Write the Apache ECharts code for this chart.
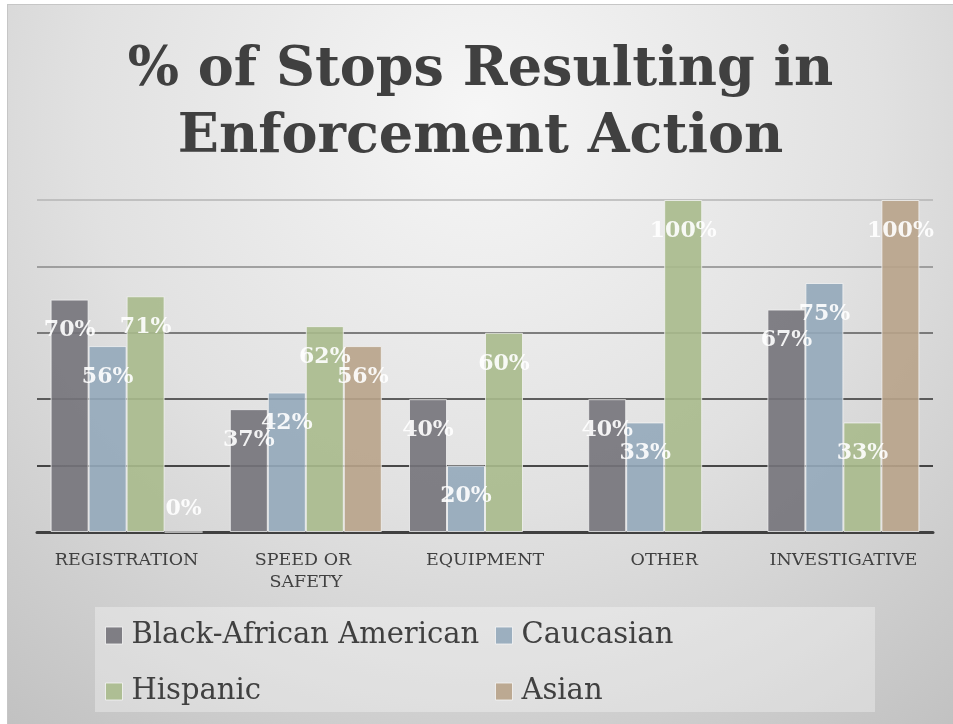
<!DOCTYPE html>
<html>
<head>
<meta charset="utf-8">
<script src="https://cdn.jsdelivr.net/npm/echarts@6/dist/echarts.min.js"></script>
<style>
  html, body { margin: 0; padding: 0; background: #ffffff; width: 953px; height: 724px; overflow: hidden; }
  #frame { position: absolute; left: 7px; top: 4px; width: 946px; height: 720px; background: #c6c6c6; }
  #chart { position: absolute; left: 8px; top: 5px; width: 945px; height: 719px; }
</style>
</head>
<body>
<div id="frame"></div>
<div id="chart"></div>
<script>
const titleLines = ['% of Stops Resulting in', 'Enforcement Action'];
const categories = ['REGISTRATION', 'SPEED OR SAFETY', 'EQUIPMENT', 'OTHER', 'INVESTIGATIVE'];
const seriesNames = ['Black-African American', 'Caucasian', 'Hispanic', 'Asian'];
const blackAfricanAmerican = [70, 37, 40, 40, 67];
const caucasian = [56, 42, 20, 33, 75];
const hispanic = [71, 62, 60, 100, 33];
const asian = [0, 56, null, null, 100];
const yTicks = [0, 20, 40, 60, 80, 100];

const seriesValues = [blackAfricanAmerican, caucasian, hispanic, asian];
const seriesColors = ['#74737a', '#93a9ba', '#a8ba8c', '#b8a38a'];
const FONT = 'DejaVu Serif';

const chart = echarts.init(document.getElementById('chart'), null, { renderer: 'canvas' });

function buildData(values) {
  return values.map(v => {
    if (v === 0) {
      return { value: v, label: { position: 'top', distance: 11, offset: [0, 0] } };
    }
    return v;
  });
}

const series = seriesNames.map((name, i) => ({
  name: name,
  type: 'bar',
  data: buildData(seriesValues[i]),
  barWidth: 38,
  barGap: '0%',
  itemStyle: {
    color: seriesColors[i],
    opacity: 0.9,
    borderColor: 'rgba(245,245,245,0.85)',
    borderWidth: 1
  },
  label: {
    show: true,
    position: 'insideTop',
    distance: 5,
    offset: [0, 15],
    formatter: '{c}%',
    color: '#ffffff',
    fontFamily: FONT,
    fontWeight: 'bold',
    fontSize: 22,
    lineHeight: 22
  },
  emphasis: { disabled: true }
}));

const legendCommon = {
  orient: 'vertical',
  top: 616,
  padding: 0,
  itemGap: 27,
  itemWidth: 17,
  itemHeight: 17,
  icon: 'rect',
  itemStyle: { borderColor: 'rgba(245,245,245,0.9)', borderWidth: 1 },
  textStyle: { fontFamily: FONT, fontSize: 29, lineHeight: 28, color: '#404040', padding: [0, 0, 0, 4] }
};

const option = {
  animation: false,
  backgroundColor: {
    type: 'radial', x: 0.5, y: 0.15, r: 1.1,
    colorStops: [
      { offset: 0, color: '#f6f6f6' },
      { offset: 0.5, color: '#e1e1e1' },
      { offset: 1, color: '#c0c0c0' }
    ]
  },
  title: {
    text: titleLines.join('\n'),
    left: 'center',
    top: 27,
    textStyle: {
      fontFamily: FONT,
      fontWeight: 'bold',
      fontSize: 54,
      lineHeight: 67,
      color: '#404040'
    }
  },
  graphic: [{
    type: 'rect',
    z: -1,
    shape: { x: 87, y: 602, width: 780, height: 105 },
    style: { fill: 'rgba(255,255,255,0.32)' }
  }],
  legend: [
    Object.assign({}, legendCommon, { data: [seriesNames[0], seriesNames[2]], left: 97 }),
    Object.assign({}, legendCommon, { data: [seriesNames[1], seriesNames[3]], left: 487 })
  ],
  grid: { left: 29, right: 20, top: 195, bottom: 192, containLabel: false },
  xAxis: {
    type: 'category',
    data: categories,
    axisLine: { show: true, lineStyle: { color: '#404040', width: 3 } },
    axisTick: { show: false },
    axisLabel: {
      fontFamily: FONT,
      fontSize: 17.5,
      lineHeight: 22,
      color: '#404040',
      margin: 17,
      width: 168,
      overflow: 'break',
      interval: 0
    }
  },
  yAxis: {
    type: 'value',
    min: yTicks[0],
    max: yTicks[yTicks.length - 1],
    interval: yTicks[1] - yTicks[0],
    axisLine: { show: false },
    axisTick: { show: false },
    axisLabel: { show: false },
    splitLine: {
      show: true,
      lineStyle: {
        width: 1.5,
        color: ['#404040', '#151515', '#303030', '#5a5a5a', '#8a8a8a', '#b4b4b4']
      }
    }
  },
  series: series
};

chart.setOption(option);
</script>
</body>
</html>
